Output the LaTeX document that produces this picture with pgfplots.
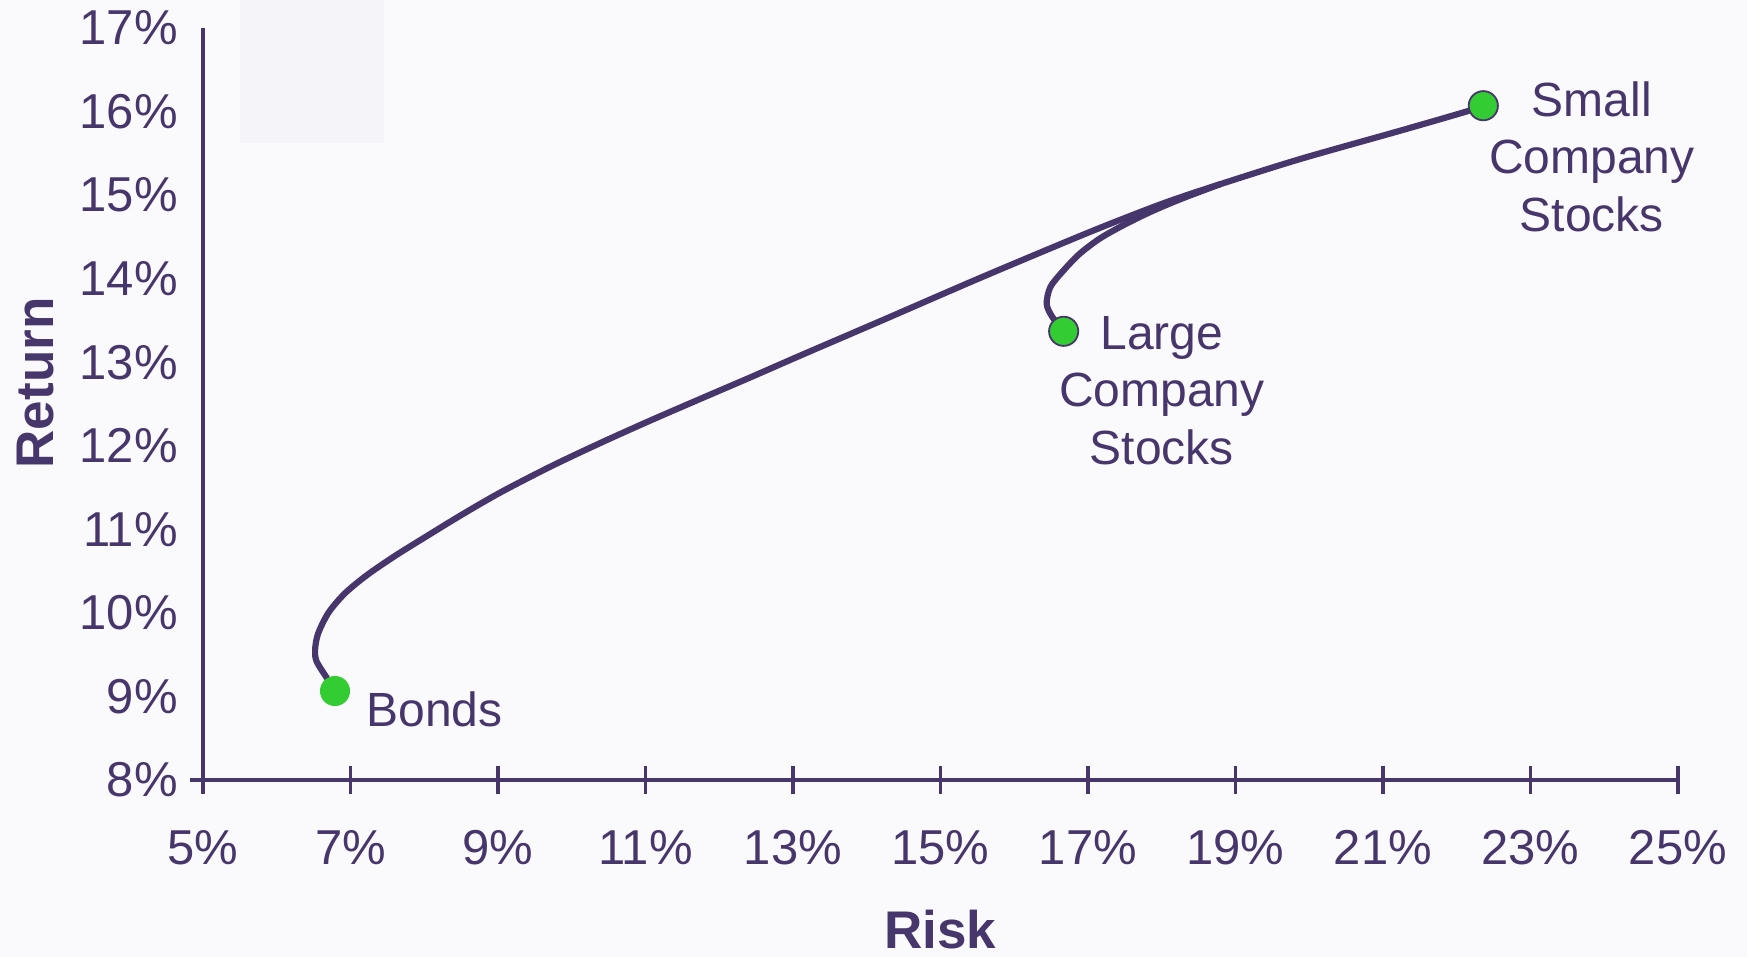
\documentclass[border=0pt]{standalone}
\usepackage{pgfplots}
\pgfplotsset{compat=1.18}
\usepackage{fontspec}
\setmainfont{Liberation Sans}
\definecolor{dpurple}{RGB}{71,54,107}
\definecolor{mgreen}{RGB}{51,204,51}
\definecolor{bgc}{RGB}{250,250,253}
\definecolor{boxc}{RGB}{245,244,249}
\begin{document}
\begin{tikzpicture}
\fill[bgc] (0,0) rectangle (873.5pt,478.5pt);
\fill[boxc] (120pt,407pt) rectangle (192pt,478.5pt);
\begin{axis}[
  at={(101.5pt,88.5pt)}, anchor=south west,
  scale only axis, width=737.5pt, height=376pt,
  xmin=5, xmax=25, ymin=8, ymax=17,
  axis lines=left,
  axis line style={dpurple, line width=2.1pt, -},
  xtick={5,7,...,25}, ytick={8,9,...,17},
  xticklabels={5\%,7\%,9\%,11\%,13\%,15\%,17\%,19\%,21\%,23\%,25\%},
  yticklabels={8\%,9\%,10\%,11\%,12\%,13\%,14\%,15\%,16\%,17\%},
  tick align=center, major tick length=14pt,
  x tick style={dpurple, line width=1.8pt},
  y tick style={draw=none},
  tick label style={font=\fontsize{24.5}{28.75}\selectfont, text=dpurple, inner sep=0pt},
  xticklabel style={anchor=north, yshift=-18pt},
  yticklabel style={anchor=east, xshift=-5.5pt},
  clip=false,
]
\draw[dpurple, line width=2.1pt] (axis cs:5,8) -- ++(-6.5pt,0pt);
% efficient frontier bonds -> small company stocks
\addplot[dpurple, line width=3.1pt, smooth] coordinates {
(6.79,9.065) (6.68,9.22) (6.54,9.42) (6.52,9.56) (6.56,9.75) (6.70,10.00)
(6.92,10.23) (7.22,10.45) (7.60,10.68) (8.00,10.90) (8.50,11.17) (9.03,11.44)
(9.71,11.75) (10.38,12.03) (11.06,12.30) (11.74,12.56) (12.40,12.81) (13.10,13.08)
(14.18,13.49) (15.54,14.01) (16.89,14.51) (17.57,14.75) (18.11,14.93) (18.79,15.13)
(19.87,15.43) (21.23,15.77) (22.13,16.00) (22.36,16.07)
};
% large company stocks branch
\addplot[dpurple, line width=3.1pt, smooth] coordinates {
(16.67,13.37) (16.51,13.55) (16.44,13.70) (16.49,13.90) (16.67,14.10) (16.89,14.30)
(17.16,14.48) (17.48,14.64) (17.85,14.80) (18.25,14.95) (18.79,15.13)
};
\addplot[only marks, mark=*, mark size=7.3pt, mark options={fill=mgreen, draw=mgreen}] coordinates {(6.79,9.065)};
\addplot[only marks, mark=*, mark size=7.3pt, mark options={fill=mgreen, draw=dpurple, line width=0.9pt}] coordinates {(16.67,13.37) (22.36,16.07)};
\node[anchor=west, inner sep=0pt, text=dpurple, font=\fontsize{24}{28.75}\selectfont] at (axis cs:7.21,8.85) {Bonds};
\node[anchor=north, inner sep=0pt, align=center, text=dpurple, font=\fontsize{24}{28.75}\selectfont] at (axis cs:18.0,13.553) {Large\\Company\\Stocks};
\node[anchor=north, inner sep=0pt, align=center, text=dpurple, font=\fontsize{24}{28.75}\selectfont] at (axis cs:23.83,16.365) {Small\\Company\\Stocks};
\end{axis}
\node[rotate=90, inner sep=0pt, text=dpurple, font=\fontsize{26.5}{32}\selectfont\bfseries] at (17.75pt,287pt) {Return};
\node[inner sep=0pt, text=dpurple, font=\fontsize{26.5}{32}\selectfont\bfseries] at (470pt,13.5pt) {Risk};
\pgfresetboundingbox
\path (0,0) rectangle (873.5pt,478.5pt);
\end{tikzpicture}
\end{document}
